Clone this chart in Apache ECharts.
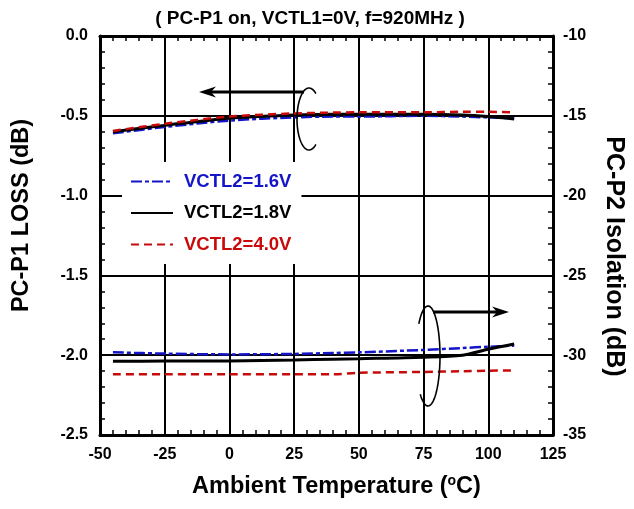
<!DOCTYPE html>
<html>
<head>
<meta charset="utf-8">
<script src="https://cdn.jsdelivr.net/npm/echarts@6/dist/echarts.min.js"></script>
<style>
  html, body { margin: 0; padding: 0; background: #fff; }
  #chart { width: 634px; height: 509px; }
</style>
</head>
<body>
<div id="chart"></div>
<script>
// Ambient temperature sweep points (°C)
const temps = [-45, -25, 0, 25, 40, 50, 75, 90, 100, 110];

// PC-P1 insertion loss (dB), left axis
const loss16 = [-0.61, -0.57, -0.53, -0.51, -0.505, -0.505, -0.50, -0.505, -0.51, -0.515];
const loss18 = [-0.60, -0.56, -0.515, -0.495, -0.49, -0.49, -0.49, -0.495, -0.505, -0.52];
const loss40 = [-0.595, -0.55, -0.505, -0.485, -0.48, -0.478, -0.478, -0.475, -0.475, -0.478];

// PC-P2 isolation (dB), right axis
const iso16 = [-29.82, -29.9, -29.95, -29.92, -29.86, -29.82, -29.67, -29.55, -29.47, -29.4];
const iso18 = [-30.38, -30.37, -30.36, -30.3, -30.25, -30.22, -30.13, -30.0, -29.63, -29.3];
const iso40 = [-31.2, -31.2, -31.2, -31.2, -31.2, -31.1, -31.05, -31.0, -30.97, -30.95];

const legendNames = ['VCTL2=1.6V', 'VCTL2=1.8V', 'VCTL2=4.0V'];
const xTicks = { min: -50, max: 125, interval: 25 };
const lossTicks = { min: -2.5, max: 0, interval: 0.5 };
const isoTicks = { min: -35, max: -10, interval: 5 };

const FONT = '"Liberation Sans", Arial, sans-serif';
const BLUE = '#1414c8';
const BLACK = '#000000';
const RED = '#c80a0a';

const pairs = (ys) => temps.map((t, i) => [t, ys[i]]);

const chart = echarts.init(document.getElementById('chart'), null, { renderer: 'canvas' });

const tickLabel = { color: '#000', fontFamily: FONT, fontWeight: 'bold', fontSize: 16 };
const titleFont = { fontFamily: FONT, fontWeight: 'bold', fontSize: 23.5, color: '#000' };
const border = { show: true, onZero: false, lineStyle: { color: '#000', width: 3 } };
const minor = { show: true, splitNumber: 5, length: 5, lineStyle: { color: '#000', width: 1.5 } };
const major = { show: true, inside: true, length: 7, lineStyle: { color: '#000', width: 2 } };
const grid = { show: true, lineStyle: { color: '#000', width: 2 } };

const lineSeries = (name, data, yAxisIndex, color, type, width) => ({
  name, type: 'line', data, yAxisIndex, xAxisIndex: 0,
  symbol: 'none', smooth: 0.3, z: 3,
  lineStyle: { color, width, type },
  itemStyle: { color }
});

const dashDot = [11, 3, 4, 3];
const dashed = [8, 5];

chart.setOption({
  animation: false,
  backgroundColor: '#fff',
  title: {
    text: '( PC-P1 on, VCTL1=0V, f=920MHz )',
    left: 305, top: 4, textAlign: 'center',
    textStyle: { fontFamily: FONT, fontWeight: 'bold', fontSize: 19, color: '#000' }
  },
  grid: { left: 100, right: 79, top: 36, bottom: 74, containLabel: false },
  legend: {
    orient: 'vertical',
    left: 122, top: 162,
    padding: [10, 10, 10, 8],
    backgroundColor: '#fff',
    itemWidth: 42, itemHeight: 14, itemGap: 12.5,
    itemStyle: { opacity: 0 },
    data: legendNames.map((n, i) => ({
      name: n,
      textStyle: { color: [BLUE, BLACK, RED][i] }
    })),
    textStyle: { fontFamily: FONT, fontWeight: 'bold', fontSize: 18.5, padding: [0, 0, 0, 6] },
    selectedMode: false,
    z: 5
  },
  xAxis: [{
    type: 'value', position: 'bottom',
    min: xTicks.min, max: xTicks.max, interval: xTicks.interval,
    name: '{t|Ambient Temperature (}{s|o}{t|C)}',
    nameLocation: 'middle', nameGap: 39,
    nameTextStyle: {
      padding: [0, 0, 0, 20],
      rich: {
        t: titleFont,
        s: { fontFamily: FONT, fontWeight: 'bold', fontSize: 14, color: '#000', verticalAlign: 'top', padding: [0, 0, 12, 0] }
      }
    },
    axisLine: border, axisTick: major, minorTick: minor, splitLine: grid,
    axisLabel: Object.assign({ margin: 12 }, tickLabel)
  }, {
    type: 'value', position: 'top',
    min: xTicks.min, max: xTicks.max, interval: xTicks.interval,
    axisLine: border, axisTick: major, minorTick: minor,
    splitLine: { show: false }, axisLabel: { show: false }
  }],
  yAxis: [{
    type: 'value', position: 'left',
    min: lossTicks.min, max: lossTicks.max, interval: lossTicks.interval,
    name: 'PC-P1 LOSS (dB)', nameLocation: 'middle', nameGap: 66, nameRotate: 90,
    nameTextStyle: Object.assign({ padding: [0, 0, 0, 40] }, titleFont),
    axisLine: border, axisTick: major, minorTick: minor, splitLine: grid,
    axisLabel: Object.assign({ margin: 12, formatter: v => v.toFixed(1) }, tickLabel)
  }, {
    type: 'value', position: 'right',
    min: isoTicks.min, max: isoTicks.max, interval: isoTicks.interval,
    name: 'PC-P2 Isolation (dB)', nameLocation: 'middle', nameGap: 48, nameRotate: -90,
    nameTextStyle: Object.assign({}, titleFont, { fontSize: 25, padding: [0, 0, 0, 42] }),
    axisLine: border, axisTick: major, minorTick: minor, splitLine: { show: false },
    axisLabel: Object.assign({ margin: 10 }, tickLabel)
  }],
  series: [
    lineSeries(legendNames[0], pairs(loss16), 0, BLUE, dashDot, 2.5),
    lineSeries(legendNames[1], pairs(loss18), 0, BLACK, 'solid', 3),
    lineSeries(legendNames[2], pairs(loss40), 0, RED, dashed, 2.5),
    lineSeries(legendNames[0], pairs(iso16), 1, BLUE, dashDot, 2.5),
    lineSeries(legendNames[1], pairs(iso18), 1, BLACK, 'solid', 3),
    lineSeries(legendNames[2], pairs(iso40), 1, RED, dashed, 2.5)
  ]
});

// Arrows with open loops showing which axis each group of curves belongs to
function loopArrow(cx, cy, rx, ry, a0, a1, from, to) {
  const pts = [];
  const steps = 60;
  for (let k = 0; k <= steps; k++) {
    const a = (a0 + (a1 - a0) * k / steps) * Math.PI / 180;
    pts.push([cx + rx * Math.cos(a), cy + ry * Math.sin(a)]);
  }
  const dir = Math.sign(to[0] - from[0]);
  const headLen = 17, headHalf = 5.5;
  return [{
    type: 'polyline', z: 10,
    shape: { points: pts },
    style: { fill: null, stroke: '#000', lineWidth: 1.6 }
  }, {
    type: 'line', z: 10,
    shape: { x1: from[0], y1: from[1], x2: to[0] - dir * headLen * 0.6, y2: to[1] },
    style: { stroke: '#000', lineWidth: 3 }
  }, {
    type: 'polygon', z: 10,
    shape: { points: [[to[0], to[1]], [to[0] - dir * headLen, to[1] - headHalf], [to[0] - dir * headLen * 0.7, to[1]], [to[0] - dir * headLen, to[1] + headHalf]] },
    style: { fill: '#000' }
  }];
}

chart.setOption({
  graphic: [
    // left loop opens to the right, arrow points to the left axis
    ...loopArrow(309, 119, 12, 31, -55, -305, [304, 92], [199, 92]),
    // right loop opens to the left, arrow points to the right axis
    ...loopArrow(428, 356, 12, 50, -140, 130, [433, 312], [509, 312])
  ]
});
</script>
</body>
</html>
